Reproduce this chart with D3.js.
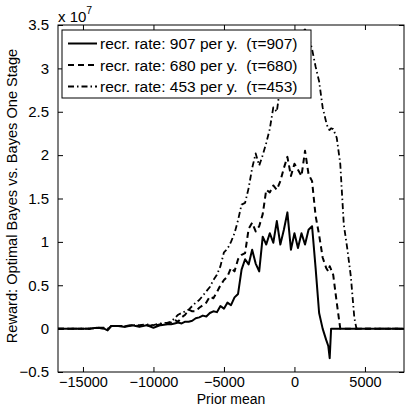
<!DOCTYPE html>
<html><head><meta charset="utf-8">
<script src="https://cdn.jsdelivr.net/npm/d3@7"></script>
<style>
body{margin:0;background:#fff;}
svg{display:block;font-family:"Liberation Sans",Arial,Helvetica,sans-serif;}
</style></head>
<body><svg id="c" width="409" height="406"></svg>
<script>
// Prior mean grid (shared by all series)
const priorMean = [-16770,-14500,-14000,-13500,-13250,-13000,-12500,-12000,-11500,-11000,-10500,-10000,-9500,
 -9000,-8750,-8500,-8250,-8000,-7750,-7500,-7250,-7000,-6750,-6500,-6250,-6000,-5750,-5500,-5250,-5000,-4750,
 -4500,-4250,-4000,-3750,-3500,-3250,-3000,-2750,-2500,-2250,-2000,-1750,-1500,-1250,-1000,-750,-500,-250,
 0,250,500,750,1000,1250,1500,1750,2000,2250,2400,2500,2600,2750,3000,3250,3500,3750,4000,4250,4400,4500,7770];
// Reward values (x 10^7)
const rate907 = [0,0,0.01,0,-0.02,0.03,0.03,0.02,0.04,0.02,0.04,0.01,0.04,
 0.05,0.05,0.06,0.07,0.06,0.08,0.08,0.09,0.12,0.13,0.15,0.14,0.18,0.2,0.19,0.26,0.23,0.3,
 0.27,0.36,0.4,0.68,0.8,0.74,0.91,0.75,0.66,1.06,0.97,1.1,0.99,1.24,0.97,1.14,1.34,0.91,
 1.1,0.93,1.1,0.97,1.14,1.18,0.7,0.18,0.0,-0.13,-0.2,-0.34,0,0,0,0,0,0,0,0,0,0,0];
const rate680 = [0,0,0.01,0,-0.01,0.03,0.03,0.03,0.04,0.03,0.04,0.03,0.05,
 0.06,0.07,0.1,0.08,0.13,0.16,0.22,0.2,0.2,0.24,0.27,0.3,0.37,0.35,0.42,0.5,0.56,0.6,
 0.7,0.66,0.8,0.85,0.87,1.15,1.22,1.12,1.18,1.32,1.6,1.57,1.65,1.6,1.7,1.85,1.98,1.76,
 1.9,1.83,1.76,2.05,1.78,1.7,1.3,1.08,0.82,0.7,0.66,0.72,0.68,0.62,0.3,0,0,0,0,0,0,0,0];
const rate453 = [0,0,0.01,0.01,0,0.03,0.03,0.03,0.04,0.04,0.05,0.04,0.06,
 0.07,0.08,0.12,0.16,0.18,0.2,0.22,0.26,0.3,0.33,0.38,0.43,0.48,0.56,0.62,0.72,0.88,0.92,
 1.0,1.1,1.25,1.43,1.45,1.62,1.85,2.02,1.88,2.0,2.14,2.3,2.55,2.5,2.8,2.9,3.0,3.1,
 3.2,3.3,3.4,3.45,3.38,3.22,3.02,2.85,2.55,2.38,2.3,2.29,2.31,2.3,2.2,1.9,1.2,0.92,0.6,0.12,0,0,0];
const seriesNames = ["recr. rate: 907 per y.  (\u03c4=907)","recr. rate: 680 per y.  (\u03c4=680)","recr. rate: 453 per y.  (\u03c4=453)"];
const xTicks = [-15000,-10000,-5000,0,5000];
const yTicks = [-0.5,0,0.5,1,1.5,2,2.5,3,3.5];

const svg = d3.select("#c");
const L=58,T=25,R=404,B=372;
const x = d3.scaleLinear().domain([-16770,7770]).range([L,R]);
const y = d3.scaleLinear().domain([-0.5,3.5]).range([B,T]);
const fmt = v => (v<0?"\u2212":"")+Math.abs(v);

const styles = [
  {w:2, dash:null},
  {w:2, dash:"6,4"},
  {w:1.8, dash:"6,3,1.5,3"}
];
const data = [rate907, rate680, rate453];
const line = d3.line().x((d,i)=>x(priorMean[i])).y(d=>y(d));
svg.append("clipPath").attr("id","cp").append("rect").attr("x",L).attr("y",T).attr("width",R-L).attr("height",B-T);
const g = svg.append("g").attr("clip-path","url(#cp)");
data.forEach((s,k)=>{
  g.append("path").datum(s).attr("d",line).attr("fill","none").attr("stroke","#000")
   .attr("stroke-width",styles[k].w).attr("stroke-dasharray",styles[k].dash).attr("stroke-linejoin","round");
});

// axes
const xb = d3.axisBottom(x).tickValues(xTicks).tickSizeInner(-5).tickSizeOuter(0).tickPadding(5).tickFormat(fmt);
const xt = d3.axisTop(x).tickValues(xTicks).tickSizeInner(-5).tickSizeOuter(0).tickFormat("");
const yl = d3.axisLeft(y).tickValues(yTicks).tickSizeInner(-5).tickSizeOuter(0).tickPadding(9).tickFormat(fmt);
const yr = d3.axisRight(y).tickValues(yTicks).tickSizeInner(-5).tickSizeOuter(0).tickFormat("");
[[xb,`translate(0,${B})`,14.5],[xt,`translate(0,${T})`,15],[yl,`translate(${L},0)`,15],[yr,`translate(${R},0)`,15]].forEach(([a,t,fs])=>{
  const gg = svg.append("g").attr("transform",t).call(a);
  gg.select(".domain").remove();
  gg.selectAll("line").attr("stroke","#000");
  gg.selectAll("text").attr("font-size",fs).attr("fill","#000").attr("font-family",'"Liberation Sans",Arial,sans-serif');
});
svg.append("rect").attr("x",L).attr("y",T).attr("width",R-L).attr("height",B-T).attr("fill","none").attr("stroke","#000").attr("stroke-width",1);

// exponent
const ex = svg.append("text").attr("x",L).attr("y",22).attr("font-size",15);
ex.append("tspan").text("x 10");
ex.append("tspan").attr("dy",-8).attr("font-size",10.5).text("7");

// labels
svg.append("text").attr("x",(L+R)/2).attr("y",403.5).attr("text-anchor","middle").attr("font-size",14).text("Prior mean");
svg.append("text").attr("transform",`translate(17,196) rotate(-90)`).attr("text-anchor","middle").attr("font-size",14.6)
  .text("Reward: Optimal Bayes vs. Bayes One Stage");

// legend
const lg = svg.append("g");
lg.append("rect").attr("x",62).attr("y",30).attr("width",249).attr("height",68).attr("fill","#fff").attr("stroke","#000").attr("stroke-width",1);
seriesNames.forEach((n,k)=>{
  const yy = 43.5 + k*21.5;
  lg.append("line").attr("x1",68).attr("x2",97).attr("y1",yy).attr("y2",yy).attr("stroke","#000")
    .attr("stroke-width",styles[k].w).attr("stroke-dasharray",styles[k].dash);
  lg.append("text").attr("x",100).attr("y",yy+5.5).attr("font-size",15.5).style("white-space","pre").attr("xml:space","preserve").text(n);
});
</script></body></html>
